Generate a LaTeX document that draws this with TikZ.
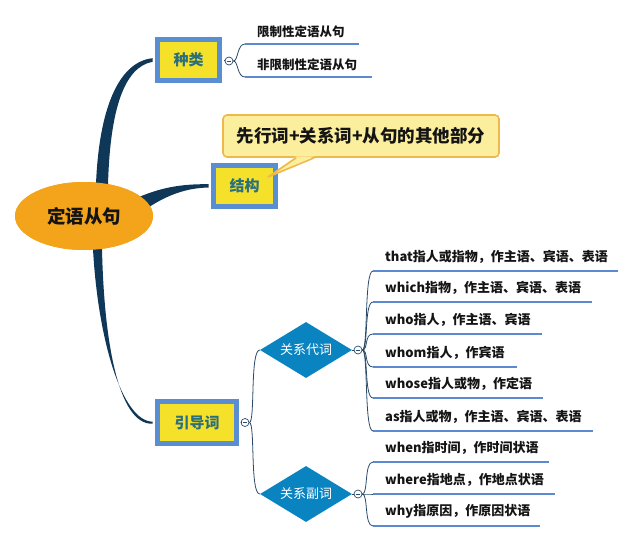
\documentclass[tikz,border=0pt]{standalone}
\usepackage{fontspec}
\setmainfont{Noto Sans CJK SC}
\usetikzlibrary{shapes.geometric,calc}
\definecolor{branchc}{HTML}{0F3757}
\definecolor{thinc}{HTML}{2A4A6A}
\definecolor{boxborder}{HTML}{5A8ED2}
\definecolor{boxfill}{HTML}{F5E12A}
\definecolor{boxtext}{HTML}{2B6E7C}
\definecolor{rootfill}{HTML}{F4A41B}
\definecolor{diafill}{HTML}{0A84C1}
\definecolor{leafline}{HTML}{5B8AD3}
\definecolor{calloutfill}{HTML}{FBEF9E}
\definecolor{calloutdraw}{HTML}{EFB84C}
\definecolor{txt}{HTML}{141414}
\tikzset{
  rootnode/.style={ellipse, fill=rootfill, minimum width=138pt, minimum height=68pt, inner sep=0pt,
    text=txt, font=\fontsize{18.5}{20}\selectfont\bfseries},
  topicbox/.style={rectangle, draw=boxborder, line width=5pt, fill=boxfill, inner sep=0pt,
    text=boxtext, font=\fontsize{15}{17}\selectfont\bfseries},
  dia/.style={diamond, fill=diafill, minimum width=92pt, minimum height=56pt, inner sep=0pt,
    aspect=1.64, text=white, font=\fontsize{13}{15}\selectfont},
  foldc/.style={circle, draw=thinc, fill=white, line width=0.7pt, minimum size=8pt, inner sep=0pt},
  leafnode/.style={anchor=south west, inner xsep=0pt, inner ysep=0pt, minimum height=28pt,
    text=txt, font=\fontsize{13}{15}\selectfont\bfseries},
  leafsmall/.style={leafnode, minimum height=25pt, font=\fontsize{12.5}{15}\selectfont\bfseries},
  lline/.style={draw=leafline, line width=2.6pt},
  thinline/.style={draw=thinc, line width=0.8pt},
  callout/.style={rectangle, rounded corners=4pt, fill=calloutfill, draw=calloutdraw, line width=1.6pt,
    minimum width=276pt, minimum height=42pt, inner sep=0pt, text=txt,
    font=\fontsize{17.5}{20}\selectfont\bfseries},
}
\newcommand{\leafbox}[2]{\makebox[#1][l]{\hspace{12pt}#2}}
\begin{document}
\begin{tikzpicture}[x=1pt,y=-1pt]
\useasboundingbox (0,0) rectangle (636,543);

% nodes
\node[rootnode] (root) at (84,216) {定语从句};
\node[topicbox, minimum width=62pt, minimum height=41pt] (kind) at (188.5,60) {种类};
\node[topicbox, minimum width=62pt, minimum height=41pt] (struct) at (244.5,186) {结构};
\node[topicbox, minimum width=79pt, minimum height=42pt] (lead) at (197,422.5) {引导词};

% thick tapered branches
\fill[branchc] (96,184) .. controls (99,110) and (118,62) .. ($(kind.west)+(-2.5,-1.8)$)
  -- ($(kind.west)+(-2.5,1.8)$) .. controls (124,67) and (110,110) .. (108,185) -- cycle;
\fill[branchc] (139,197) .. controls (165,186) and (186,184) .. ($(struct.west)+(-2.5,-1.8)$)
  -- ($(struct.west)+(-2.5,1.5)$) .. controls (186,188) and (168,195) .. (149,207) -- cycle;
\fill[branchc] (93,249) .. controls (98,340) and (122,421) .. ($(lead.west)+(-2.5,-0.8)$)
  -- ($(lead.west)+(-2.5,1.2)$) .. controls (118,425) and (104,340) .. (102,249) -- cycle;

% redraw root on top
\node[rootnode] at (84,216) {定语从句};

% fold circles
\node[foldc] (c1) at (229,61) {};
\node[foldc] (c2) at (245,422.5) {};
\node[foldc] (c3) at (358,350) {};
\node[foldc] (c4) at (358,494) {};
\foreach \c in {c1,c2,c3,c4}{\draw[thinc, line width=0.7pt] ([xshift=2pt]\c.west) -- ([xshift=-2pt]\c.east);}

\draw[thinline] (kind.east) ++(2.5,0) -- (c1.west);
\draw[thinline] (lead.east) ++(2.5,0) -- (c2.west);

% diamonds
\node[dia] (pron) at (306,350) {关系代词};
\node[dia] (adv) at (306,494) {关系副词};
\draw[thinline] (pron.east) -- (c3.west);
\draw[thinline] (adv.east) -- (c4.west);
\draw[thinline] (c2.east) .. controls +(6,0) and +(-10,0) .. (pron.west);
\draw[thinline] (c2.east) .. controls +(6,0) and +(-10,0) .. (adv.west);

% leaves of 种类
\node[leafsmall] (k1) at (245,44) {\leafbox{114pt}{限制性定语从句}};
\node[leafsmall] (k2) at (245,77) {\leafbox{127pt}{非限制性定语从句}};
\foreach \l in {k1,k2}{
  \draw[lline] (\l.south west) -- (\l.south east);
  \draw[thinline] (c1.east) .. controls +(5,0) and +(-8,0) .. (\l.south west);
}

% leaves of 关系代词
\node[leafnode] (p1) at (373,271) {\leafbox{245pt}{that指人或指物，作主语、宾语、表语}};
\node[leafnode] (p2) at (373,302) {\leafbox{219pt}{which指物，作主语、宾语、表语}};
\node[leafnode] (p3) at (373,334) {\leafbox{169pt}{who指人，作主语、宾语}};
\node[leafnode] (p4) at (373,367) {\leafbox{144pt}{whom指人，作宾语}};
\node[leafnode] (p5) at (373,398) {\leafbox{170pt}{whose指人或物，作定语}};
\node[leafnode] (p6) at (373,431) {\leafbox{220pt}{as指人或物，作主语、宾语、表语}};
\foreach \l in {p1,p2,p3,p4,p5,p6}{
  \draw[lline] (\l.south west) -- (\l.south east);
  \draw[thinline] (c3.east) .. controls +(6,0) and +(-9,0) .. (\l.south west);
}

% leaves of 关系副词
\node[leafnode] (a1) at (373,462) {\leafbox{176pt}{when指时间，作时间状语}};
\node[leafnode] (a2) at (373,494) {\leafbox{182pt}{where指地点，作地点状语}};
\node[leafnode] (a3) at (373,526) {\leafbox{167pt}{why指原因，作原因状语}};
\foreach \l in {a1,a2,a3}{
  \draw[lline] (\l.south west) -- (\l.south east);
  \draw[thinline] (c4.east) .. controls +(6,0) and +(-9,0) .. (\l.south west);
}

% callout
\node[callout] (call) at (361,136) {先行词+关系词+从句的其他部分};
\coordinate (tip) at (268,177);
\fill[calloutfill] ($(call.south west)+(74,-1.5)$) -- (tip) -- ($(call.south west)+(92,-1.5)$) -- cycle;
\draw[calloutdraw, line width=1.6pt, line join=round] ($(call.south west)+(74,0)$) -- (tip) -- ($(call.south west)+(92,0)$);
\end{tikzpicture}
\end{document}
